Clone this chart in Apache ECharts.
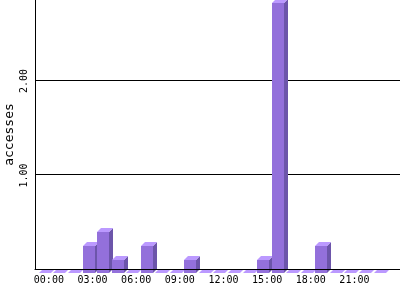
<!DOCTYPE html>
<html>
<head>
<meta charset="utf-8">
<script src="https://cdn.jsdelivr.net/npm/echarts@6/dist/echarts.min.js"></script>
<style>html,body{margin:0;padding:0;background:#fff}#c{width:400px;height:300px}</style>
</head>
<body>
<div id="c"></div>
<script>
var hours = ['00:00','01:00','02:00','03:00','04:00','05:00','06:00','07:00','08:00','09:00','10:00','11:00',
             '12:00','13:00','14:00','15:00','16:00','17:00','18:00','19:00','20:00','21:00','22:00','23:00'];
var accesses = [0, 0, 0, 0.29, 0.43, 0.14, 0, 0.29, 0, 0, 0.14, 0,
                0, 0, 0, 0.14, 2.86, 0, 0, 0.29, 0, 0, 0, 0];
var yTicks = [1, 2];
var yTitle = 'accesses';
var yMax = 2.847;

var FONT = '"DejaVu Sans Mono", "Liberation Mono", monospace';
var chart = echarts.init(document.getElementById('c'), null, {renderer: 'canvas'});

function renderBar(params, api) {
  var i = api.value(0), v = api.value(1);
  var top = api.coord([i, v]);
  var base = api.coord([i, 0]);
  var w = 12, dx = 4, dy = 4;
  var fx0 = Math.round(top[0] - w / 2 - dx), fx1 = fx0 + w;
  var fTop = Math.round(top[1]) + dy, fBase = Math.round(base[1]) + dy;
  var children = [];
  if (fBase - fTop > 0) {
    children.push({type: 'rect', shape: {x: fx0, y: fTop, width: w, height: fBase - fTop},
                   style: {fill: '#9370DB'}});
    children.push({type: 'polygon', shape: {points: [[fx1, fTop], [fx1 + dx, fTop - dy], [fx1 + dx, fBase - dy], [fx1, fBase]]},
                   style: {fill: '#6C55AA'}});
  }
  children.push({type: 'polygon', shape: {points: [[fx0, fTop], [fx1, fTop], [fx1 + dx, fTop - dy], [fx0 + dx, fTop - dy]]},
                 style: {fill: '#BB99FF'}});
  return {type: 'group', children: children};
}

chart.setOption({
  animation: false,
  backgroundColor: '#fff',
  grid: [
    {left: 35, right: 0, top: 0, bottom: 31, outerBoundsMode: 'none'},
    {left: 41.6, right: 9.2, top: 0, bottom: 31, outerBoundsMode: 'none'}
  ],
  xAxis: [
    {type: 'value', gridIndex: 0, min: 0, max: 1, z: 5,
     axisLine: {show: true, lineStyle: {color: '#000', width: 1}},
     axisTick: {show: false}, axisLabel: {show: false}, splitLine: {show: false}},
    {type: 'category', gridIndex: 1, data: hours, boundaryGap: true,
     axisLine: {show: false}, axisTick: {show: false},
     axisLabel: {interval: 2, margin: 6, color: '#000', fontFamily: FONT, fontSize: 10}}
  ],
  yAxis: [
    {type: 'value', gridIndex: 0, min: 0, max: yMax, interval: 1,
     axisLine: {show: true, lineStyle: {color: '#000', width: 1}},
     axisTick: {show: false},
     axisLabel: {show: false},
     splitLine: {show: true, showMaxLine: false, lineStyle: {color: ['#000', '#000', '#000', 'rgba(0,0,0,0)'], width: 1}}},
    {type: 'value', gridIndex: 1, min: 0, max: yMax, show: false}
  ],
  series: [{
    type: 'custom', xAxisIndex: 1, yAxisIndex: 1, z: 2,
    renderItem: renderBar,
    data: accesses.map(function (v, i) { return [i, v]; })
  }]
});

var graphics = [
  {type: 'text', x: 9.5, y: 134.5, rotation: Math.PI / 2,
   style: {text: yTitle, fill: '#000', font: '13px ' + FONT, align: 'center', verticalAlign: 'middle'}}
];
yTicks.forEach(function (v) {
  var py = chart.convertToPixel({yAxisIndex: 0}, v);
  graphics.push({type: 'text', x: 24, y: py + 1, rotation: Math.PI / 2,
    style: {text: v.toFixed(2), fill: '#000', font: '10px ' + FONT, align: 'center', verticalAlign: 'middle'}});
});
chart.setOption({graphic: graphics});
</script>
</body>
</html>
